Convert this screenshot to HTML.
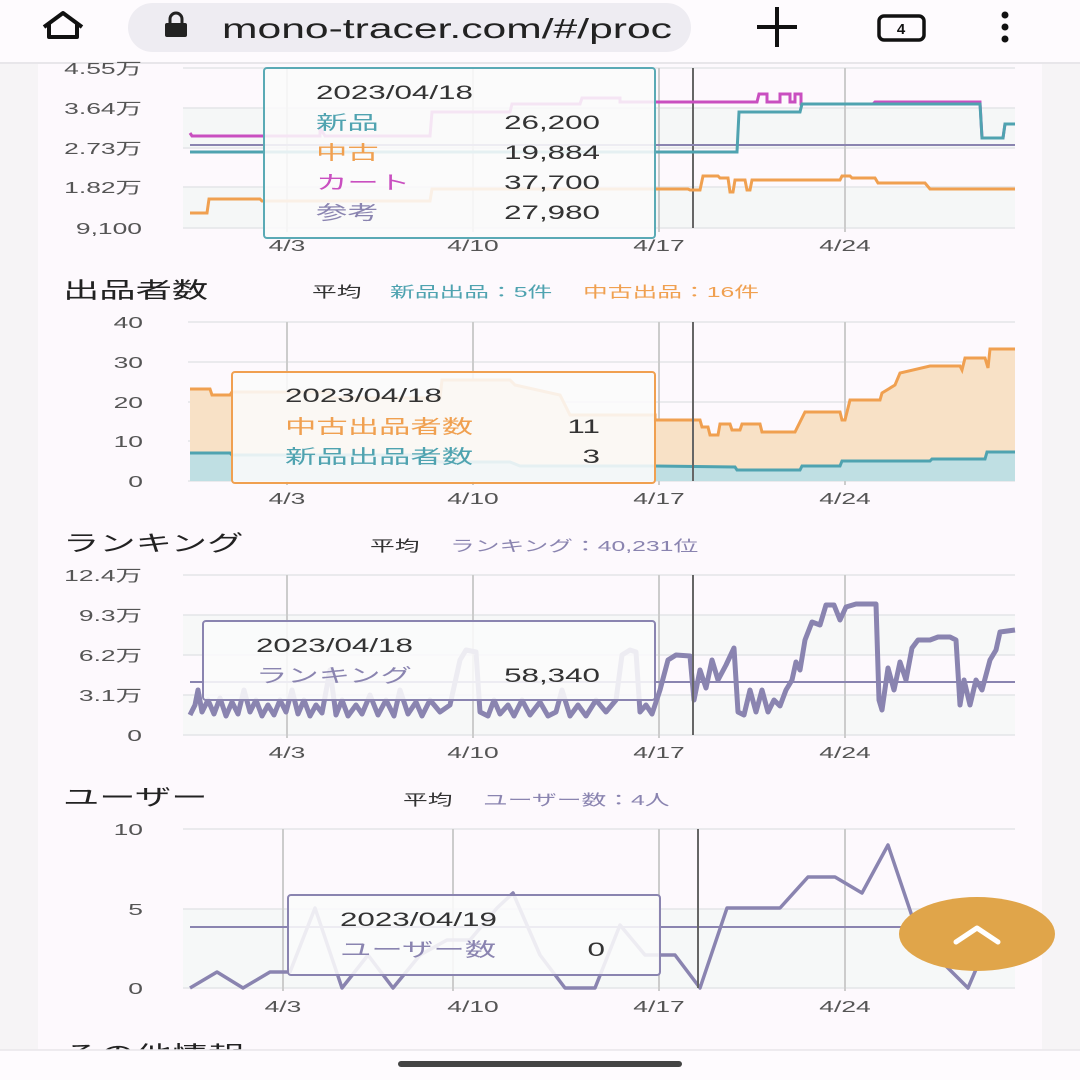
<!DOCTYPE html>
<html><head><meta charset="utf-8"><style>
html,body{margin:0;padding:0;width:1080px;height:1080px;overflow:hidden;background:#fdf9fd;}
svg{display:block;font-family:"Liberation Sans","Noto Sans CJK JP",sans-serif;}
</style></head><body>
<svg id="s" width="1080" height="1080" viewBox="0 0 1080 1080">
<rect width="1080" height="1080" fill="#fdf9fd"/>
<rect x="0" y="62" width="38" height="990" fill="#f6f4f6"/>
<rect x="1042" y="62" width="38" height="990" fill="#f6f4f6"/>
<!-- top bar -->
<rect x="0" y="0" width="1080" height="62" fill="#fefbfe"/>
<line x1="0" y1="63" x2="1080" y2="63" stroke="#e8e6ea" stroke-width="2"/>
<path d="M44 27 L63 13 L82 27 M49 23 V37 H77 V23" fill="none" stroke="#111" stroke-width="4" stroke-linejoin="round"/>
<rect x="128" y="3" width="563" height="49" rx="24.5" fill="#eeecf2"/>
<rect x="165" y="23" width="22" height="14" rx="2" fill="#222"/>
<path d="M170 24 V19 a6 6 0 0 1 12 0 V24" fill="none" stroke="#222" stroke-width="3"/>
<text class="nx" x="222" y="38" font-size="28" fill="#222" textLength="450" lengthAdjust="spacingAndGlyphs">mono-tracer.com/#/proc</text>
<path d="M757 27 H797 M777 7 V47" stroke="#111" stroke-width="4"/>
<rect x="879" y="16" width="45" height="24" rx="5" fill="none" stroke="#111" stroke-width="3.5"/>
<text class="nx" x="901" y="34" font-size="15" font-weight="bold" text-anchor="middle" fill="#111">4</text>
<circle cx="1005" cy="15" r="3.5" fill="#111"/><circle cx="1005" cy="27" r="3.5" fill="#111"/><circle cx="1005" cy="39" r="3.5" fill="#111"/>

<g font-size="16" fill="#555" text-anchor="end">
<text x="142" y="74">4.55万</text><text x="142" y="114">3.64万</text><text x="142" y="154">2.73万</text><text x="142" y="193">1.82万</text><text x="142" y="234">9,100</text>
</g>
<rect x="183" y="108" width="832" height="40" fill="#f5f7f7"/>
<rect x="183" y="187" width="832" height="41" fill="#f5f7f7"/>
<g stroke="#e4e6e8" stroke-width="1.5">
<line x1="183" y1="68" x2="1015" y2="68"/><line x1="183" y1="108" x2="1015" y2="108"/><line x1="183" y1="148" x2="1015" y2="148"/><line x1="183" y1="187" x2="1015" y2="187"/><line x1="183" y1="228" x2="1015" y2="228"/>
</g>
<g stroke="#ccc" stroke-width="2"><line x1="287" y1="68" x2="287" y2="232"/><line x1="473" y1="68" x2="473" y2="232"/><line x1="659" y1="68" x2="659" y2="232"/><line x1="845" y1="68" x2="845" y2="232"/></g>
<line x1="693" y1="68" x2="693" y2="228" stroke="#666" stroke-width="2"/>
<line x1="190" y1="145" x2="1015" y2="145" stroke="#8a84b0" stroke-width="2"/>
<polyline fill="none" stroke="#c94fc0" stroke-width="3" points="190,133 192,136 320,136 320,128 325,136 430,136 432,112 510,112 512,104 580,104 582,98 620,98 620,102 757,102 759,94 767,94 767,102 780,102 780,94 790,94 790,102 795,102 795,94 801,94 801,104 873,104 875,102 980,102 982,138 1003,138 1005,124 1015,124"/>
<polyline fill="none" stroke="#4fa3b0" stroke-width="3" points="190,152 737,152 739,112 800,112 802,104 870,104 872,104 980,104 982,138 1003,138 1005,124 1015,124"/>
<polyline fill="none" stroke="#f0a050" stroke-width="3" points="190,213 207,213 209,199 260,199 262,201 430,201 432,189 688,189 690,190 700,190 703,176 718,176 720,178 728,178 730,192 733,192 735,180 745,180 747,190 750,190 752,180 840,180 842,176 850,176 852,178 875,178 878,183 925,183 930,189 1015,189"/>
<g font-size="16" fill="#555" text-anchor="middle"><text x="287" y="251">4/3</text><text x="473" y="251">4/10</text><text x="659" y="251">4/17</text><text x="845" y="251">4/24</text></g>
<rect x="264" y="68" width="391" height="170" rx="3" fill="#fafafa" fill-opacity="0.88" stroke="#5aaab5" stroke-width="2"/>
<g font-size="19">
<text x="316" y="99" fill="#333">2023/04/18</text>
<text x="316" y="129" fill="#4fa3b0">新品</text><text x="600" y="129" fill="#333" text-anchor="end">26,200</text>
<text x="316" y="159" fill="#f0a050">中古</text><text x="600" y="159" fill="#333" text-anchor="end">19,884</text>
<text x="316" y="189" fill="#c94fc0">カート</text><text x="600" y="189" fill="#333" text-anchor="end">37,700</text>
<text x="316" y="219" fill="#8a84b0">参考</text><text x="600" y="219" fill="#333" text-anchor="end">27,980</text>
</g>

<!-- chart2 -->
<text x="63" y="298" font-size="22" fill="#222">出品者数</text>
<g font-size="15"><text x="312" y="297" fill="#333">平均</text><text x="390" y="297" fill="#4fa3b0">新品出品：5件</text><text x="583" y="297" fill="#f0a050">中古出品：16件</text></g>
<g font-size="16" fill="#555" text-anchor="end"><text x="143" y="328">40</text><text x="143" y="368">30</text><text x="143" y="408">20</text><text x="143" y="447">10</text><text x="143" y="487">0</text></g>
<g stroke="#e4e6e8" stroke-width="1.5"><line x1="188" y1="322" x2="1015" y2="322"/><line x1="188" y1="362" x2="1015" y2="362"/><line x1="188" y1="402" x2="1015" y2="402"/><line x1="188" y1="441" x2="1015" y2="441"/><line x1="188" y1="481" x2="1015" y2="481"/></g>
<g stroke="#ccc" stroke-width="2"><line x1="287" y1="322" x2="287" y2="485"/><line x1="473" y1="322" x2="473" y2="485"/><line x1="659" y1="322" x2="659" y2="485"/><line x1="845" y1="322" x2="845" y2="485"/></g>
<polygon fill="#f8e1c6" points="190,481 190,389 210,389 212,395 230,395 232,392 330,392 330,398 440,398 442,380 510,380 515,385 560,395 570,415 655,415 655,420 690,420 700,420 702,427 708,427 710,435 718,435 720,424 730,424 732,430 740,430 742,424 760,424 762,432 795,432 805,412 840,412 842,420 845,420 850,400 880,400 882,393 895,385 900,373 930,366 960,366 962,370 965,358 985,358 988,368 990,349 1015,349 1015,481"/>
<polygon fill="#bfdfe3" points="190,481 190,453 230,453 232,455 420,455 440,462 510,462 520,466 655,466 735,467 737,470 800,470 802,466 840,466 842,461 930,461 932,459 985,459 987,452 1015,452 1015,481"/>
<polyline fill="none" stroke="#f0a050" stroke-width="3" points="190,389 210,389 212,395 230,395 232,392 330,392 330,398 440,398 442,380 510,380 515,385 560,395 570,415 655,415 655,420 690,420 700,420 702,427 708,427 710,435 718,435 720,424 730,424 732,430 740,430 742,424 760,424 762,432 795,432 805,412 840,412 842,420 845,420 850,400 880,400 882,393 895,385 900,373 930,366 960,366 962,370 965,358 985,358 988,368 990,349 1015,349"/>
<polyline fill="none" stroke="#4fa3b0" stroke-width="3" points="190,453 230,453 232,455 420,455 440,462 510,462 520,466 655,466 735,467 737,470 800,470 802,466 840,466 842,461 930,461 932,459 985,459 987,452 1015,452"/>
<line x1="693" y1="322" x2="693" y2="481" stroke="#666" stroke-width="2"/>
<g font-size="16" fill="#555" text-anchor="middle"><text x="287" y="504">4/3</text><text x="473" y="504">4/10</text><text x="659" y="504">4/17</text><text x="845" y="504">4/24</text></g>
<rect x="232" y="372" width="423" height="111" rx="3" fill="#fafafa" fill-opacity="0.88" stroke="#f0a050" stroke-width="2"/>
<g font-size="19"><text x="285" y="402" fill="#333">2023/04/18</text>
<text x="285" y="433" fill="#f0a050">中古出品者数</text><text x="600" y="433" fill="#333" text-anchor="end">11</text>
<text x="285" y="463" fill="#4fa3b0">新品出品者数</text><text x="600" y="463" fill="#333" text-anchor="end">3</text></g>

<!-- chart3 -->
<text x="63" y="551" font-size="22" fill="#222">ランキング</text>
<g font-size="15"><text x="370" y="551" fill="#333">平均</text><text x="450" y="551" fill="#8a84b0">ランキング：40,231位</text></g>
<g font-size="16" fill="#555" text-anchor="end"><text x="142" y="581">12.4万</text><text x="142" y="621">9.3万</text><text x="142" y="661">6.2万</text><text x="142" y="701">3.1万</text><text x="142" y="741">0</text></g>
<rect x="183" y="615" width="832" height="40" fill="#f7f8f8"/>
<rect x="183" y="695" width="832" height="40" fill="#f7f8f8"/>
<g stroke="#e4e6e8" stroke-width="1.5"><line x1="183" y1="575" x2="1015" y2="575"/><line x1="183" y1="615" x2="1015" y2="615"/><line x1="183" y1="655" x2="1015" y2="655"/><line x1="183" y1="695" x2="1015" y2="695"/><line x1="183" y1="735" x2="1015" y2="735"/></g>
<g stroke="#ccc" stroke-width="2"><line x1="287" y1="575" x2="287" y2="738"/><line x1="473" y1="575" x2="473" y2="738"/><line x1="659" y1="575" x2="659" y2="738"/><line x1="845" y1="575" x2="845" y2="738"/></g>
<line x1="190" y1="682" x2="1015" y2="682" stroke="#8a84b0" stroke-width="2"/>
<polyline fill="none" stroke="#8a84b0" stroke-width="5" stroke-linejoin="round" points="190,715 195,705 198,690 202,712 208,700 214,714 220,698 226,716 232,702 238,714 244,690 250,712 256,700 262,716 268,705 274,715 280,700 286,712 292,690 298,714 304,700 310,716 316,705 322,713 330,670 336,715 342,700 348,716 356,705 362,714 370,695 378,715 386,700 394,716 400,690 408,714 416,702 422,716 430,700 440,712 450,705 460,660 466,650 476,652 480,712 488,716 494,700 500,714 508,705 514,716 522,700 530,715 540,702 548,716 556,712 562,690 570,716 578,705 586,716 596,700 606,712 616,700 622,655 630,650 636,652 640,712 646,705 652,714 660,690 668,660 676,655 690,656 694,700 700,670 706,688 712,660 718,680 726,665 734,648 738,712 744,715 750,690 756,712 762,690 768,712 774,700 780,706 786,690 792,680 796,662 800,670 805,640 812,622 820,625 826,605 834,605 840,620 846,607 856,604 866,604 876,604 879,700 882,710 888,668 894,690 900,662 906,680 912,648 918,640 930,640 938,637 950,637 956,640 960,705 964,680 970,705 976,680 982,690 990,660 996,650 1000,632 1015,630"/>
<line x1="693" y1="575" x2="693" y2="735" stroke="#666" stroke-width="2"/>
<g font-size="16" fill="#555" text-anchor="middle"><text x="287" y="758">4/3</text><text x="473" y="758">4/10</text><text x="659" y="758">4/17</text><text x="845" y="758">4/24</text></g>
<rect x="203" y="621" width="452" height="79" rx="3" fill="#fafafa" fill-opacity="0.88" stroke="#8a84b0" stroke-width="2"/>
<g font-size="19"><text x="256" y="652" fill="#333">2023/04/18</text>
<text x="256" y="682" fill="#8a84b0">ランキング</text><text x="600" y="682" fill="#333" text-anchor="end">58,340</text></g>

<!-- chart4 -->
<text x="63" y="805" font-size="22" fill="#222">ユーザー</text>
<g font-size="15"><text x="403" y="805" fill="#333">平均</text><text x="483" y="805" fill="#8a84b0">ユーザー数：4人</text></g>
<g font-size="16" fill="#555" text-anchor="end"><text x="143" y="835">10</text><text x="143" y="915">5</text><text x="143" y="994">0</text></g>
<rect x="183" y="909" width="832" height="79" fill="#f6f8f8"/>
<g stroke="#e4e6e8" stroke-width="1.5"><line x1="183" y1="829" x2="1015" y2="829"/><line x1="183" y1="909" x2="1015" y2="909"/><line x1="183" y1="988" x2="1015" y2="988"/></g>
<g stroke="#ccc" stroke-width="2"><line x1="283" y1="829" x2="283" y2="991"/><line x1="453" y1="829" x2="453" y2="991"/><line x1="659" y1="829" x2="659" y2="991"/><line x1="845" y1="829" x2="845" y2="991"/></g>
<line x1="190" y1="927" x2="1015" y2="927" stroke="#8a84b0" stroke-width="2"/>
<polyline fill="none" stroke="#8a84b0" stroke-width="3.5" stroke-linejoin="round" points="190,988 217,972 243,988 270,972 290,972 315,908 342,988 368,955 393,988 420,955 447,940 470,940 497,908 513,893 540,955 565,988 595,988 620,925 645,955 675,955 700,988 727,908 780,908 808,877 835,877 862,893 888,845 915,925 940,960 968,988 995,925 1015,925"/>
<line x1="698" y1="829" x2="698" y2="988" stroke="#666" stroke-width="2"/>
<g font-size="16" fill="#555" text-anchor="middle"><text x="283" y="1012">4/3</text><text x="473" y="1012">4/10</text><text x="659" y="1012">4/17</text><text x="845" y="1012">4/24</text></g>
<rect x="288" y="895" width="372" height="80" rx="3" fill="#fafafa" fill-opacity="0.88" stroke="#8a84b0" stroke-width="2"/>
<g font-size="19"><text x="340" y="926" fill="#333">2023/04/19</text>
<text x="340" y="956" fill="#8a84b0">ユーザー数</text><text x="605" y="956" fill="#333" text-anchor="end">0</text></g>
<ellipse cx="977" cy="934" rx="78" ry="37" fill="#e0a54a"/>
<path d="M956 942 L977 928 L998 942" fill="none" stroke="#fff" stroke-width="5" stroke-linecap="round" stroke-linejoin="round"/>

<text x="63" y="1062" font-size="22" fill="#222">その他情報</text>
<rect x="0" y="1050" width="1080" height="30" fill="#fefbfe"/>
<line x1="0" y1="1050" x2="1080" y2="1050" stroke="#e8e6ea" stroke-width="1.5"/>
<rect x="398" y="1061" width="284" height="6" rx="3" fill="#444"/>
</svg>
<script>
(function(){
  var ts=document.querySelectorAll('#s text');
  for(var i=0;i<ts.length;i++){
    var t=ts[i]; if(t.getAttribute('class')==='nx') continue;
    try{var w=t.getComputedTextLength();
    t.setAttribute('textLength',(w*1.65).toFixed(1));
    t.setAttribute('lengthAdjust','spacingAndGlyphs');}catch(e){}
  }
})();
</script>
</body></html>
